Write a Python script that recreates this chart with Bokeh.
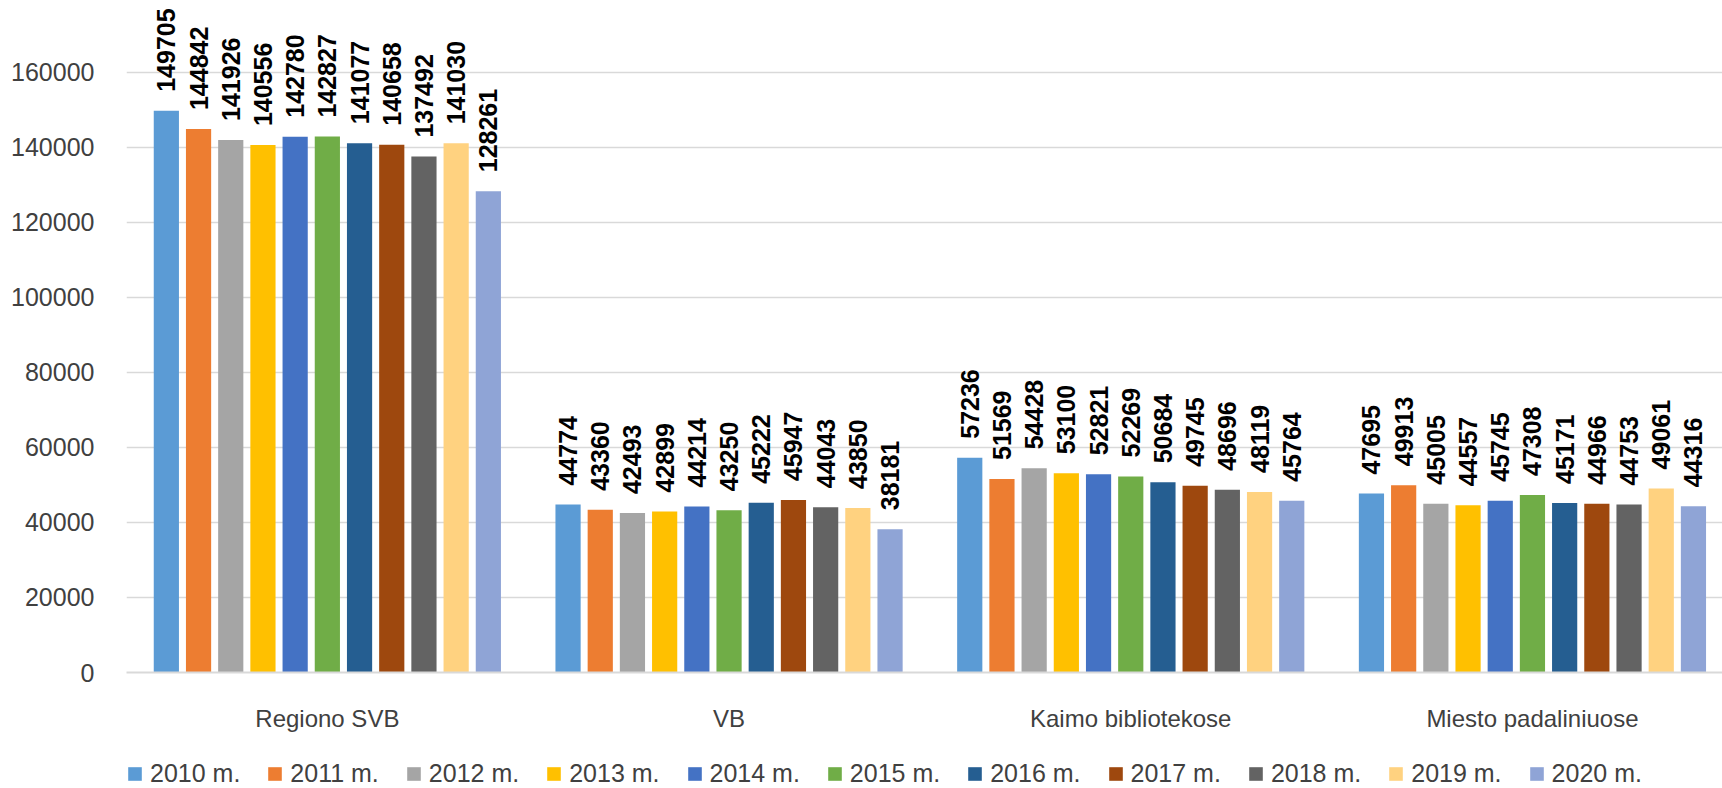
import math
from bokeh.plotting import figure
from bokeh.layouts import column
from bokeh.models import (ColumnDataSource, FixedTicker, Legend, LegendItem,
                          Range1d, BasicTickFormatter)
from bokeh.core.properties import value
from bokeh.embed import file_html
from bokeh.resources import INLINE

# ---------------- data ----------------
categories = ["Regiono SVB", "VB", "Kaimo bibliotekose", "Miesto padaliniuose"]
years = ["2010 m.", "2011 m.", "2012 m.", "2013 m.", "2014 m.", "2015 m.",
         "2016 m.", "2017 m.", "2018 m.", "2019 m.", "2020 m."]
regiono_svb = [149705, 144842, 141926, 140556, 142780, 142827, 141077, 140658, 137492, 141030, 128261]
vb = [44774, 43360, 42493, 42899, 44214, 43250, 45222, 45947, 44043, 43850, 38181]
kaimo = [57236, 51569, 54428, 53100, 52821, 52269, 50684, 49745, 48696, 48119, 45764]
miesto = [47695, 49913, 45005, 44557, 45745, 47308, 45171, 44966, 44753, 49061, 44316]
series_by_category = [regiono_svb, vb, kaimo, miesto]
y_ticks = [0, 20000, 40000, 60000, 80000, 100000, 120000, 140000, 160000]

colors = ["#5B9BD5", "#ED7D31", "#A5A5A5", "#FFC000", "#4472C4", "#70AD47",
          "#255E91", "#9E480E", "#636363", "#FFD280", "#8FA4D6"]

# ---------------- layout ----------------
W = 1722
H_MAIN, H_LEG = 750, 38
left = 126
frame_bottom = 672
px_per_cat = 401.7
x_end = (W - left) / px_per_cat
pitch = 32.2 / px_per_cat
bar_w = 25.2 / px_per_cat
FONT = "Liberation Sans"
TXT = "#404040"

p = figure(width=W, height=H_MAIN, output_backend="svg", toolbar_location=None,
           x_range=Range1d(0, x_end), y_range=Range1d(0, 179100),
           min_border_left=left, min_border_bottom=H_MAIN - frame_bottom,
           min_border_top=0, min_border_right=0)
p.outline_line_color = None
p.background_fill_color = "white"
p.border_fill_color = "white"

p.xgrid.grid_line_color = None
p.ygrid.grid_line_color = "#D9D9D9"
p.ygrid.grid_line_width = 1.5
p.ygrid.ticker = FixedTicker(ticks=y_ticks)

p.yaxis.ticker = FixedTicker(ticks=y_ticks)
p.yaxis.formatter = BasicTickFormatter(use_scientific=False)
p.yaxis.axis_line_color = None
p.yaxis.major_tick_line_color = None
p.yaxis.minor_tick_line_color = None
p.yaxis.major_label_standoff = 26
p.yaxis.major_label_text_font = FONT
p.yaxis.major_label_text_font_size = "25px"
p.yaxis.major_label_text_color = TXT

cat_centers = [i + 0.5 for i in range(len(categories))]
p.xaxis.ticker = FixedTicker(ticks=cat_centers)
p.xaxis.major_label_overrides = {c: name for c, name in zip(cat_centers, categories)}
p.xaxis.axis_line_color = "#D9D9D9"
p.xaxis.axis_line_width = 2
p.xaxis.major_tick_line_color = None
p.xaxis.minor_tick_line_color = None
p.xaxis.major_label_standoff = 26
p.xaxis.major_label_text_font = FONT
p.xaxis.major_label_text_font_size = "24px"
p.xaxis.major_label_text_color = TXT

n = len(years)
for j, yr in enumerate(years):
    xs = [c + (j - (n - 1) / 2) * pitch for c in cat_centers]
    tops = [s[j] for s in series_by_category]
    src = ColumnDataSource(dict(x=xs, top=tops, label=[str(t) for t in tops]))
    p.vbar(x="x", top="top", width=bar_w, source=src,
           fill_color=colors[j], line_color=None)
    p.text(x="x", y="top", text="label", source=src, angle=math.pi / 2,
           text_align="left", text_baseline="middle", y_offset=-19,
           text_font=value(FONT), text_font_style="bold",
           text_font_size="25px", text_color="#000000")

# ---------------- legend strip ----------------
lf = figure(width=W, height=H_LEG, output_backend="svg", toolbar_location=None,
            x_range=Range1d(0, 1), y_range=Range1d(0, 1),
            x_axis_location=None, y_axis_location=None,
            min_border=0, min_border_left=0, min_border_right=0,
            min_border_top=0, min_border_bottom=0)
lf.grid.grid_line_color = None
lf.outline_line_color = None
lf.background_fill_color = "white"
lf.border_fill_color = "white"
items = []
for j, yr in enumerate(years):
    # swatch-only renderer: a zero-height bar outside the strip's visible range
    r = lf.vbar(x=[-5], top=[0], width=0.01, fill_color=colors[j], line_color=None)
    items.append(LegendItem(label=yr, renderers=[r]))
legend = Legend(items=items, orientation="horizontal", location=(0, 0),
                border_line_color=None, background_fill_alpha=0,
                padding=0, margin=0, spacing=26, glyph_width=17, glyph_height=17,
                label_standoff=7, label_text_font=FONT,
                label_text_font_size="25px", label_text_color=TXT)
lf.add_layout(legend, "center")

layout = column(p, lf, spacing=0)
open("out.html", "w").write(file_html(layout, INLINE))
